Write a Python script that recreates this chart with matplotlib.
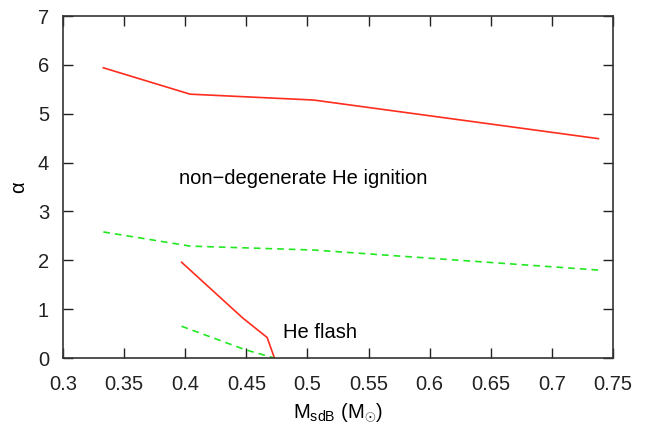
import matplotlib
matplotlib.use("Agg")
import matplotlib.pyplot as plt

plt.rcParams["font.family"] = ["Liberation Sans", "DejaVu Sans"]
plt.rcParams["mathtext.fontset"] = "custom"
plt.rcParams["mathtext.rm"] = "Liberation Sans"
plt.rcParams["mathtext.it"] = "Liberation Sans:italic"

# upper boundary, non-degenerate ignition
mass_hi = [0.333, 0.404, 0.505, 0.738]
alpha_red_hi = [5.94, 5.40, 5.28, 4.49]
alpha_green_hi = [2.58, 2.29, 2.21, 1.80]

# He flash branch
mass_flash_red = [0.397, 0.447, 0.467, 0.473]
alpha_flash_red = [1.96, 0.82, 0.42, 0.0]
mass_flash_green = [0.397, 0.449, 0.473]
alpha_flash_green = [0.65, 0.17, 0.0]

red = "#ff2d1e"
green = "#22e822"
fs = 14.5

fig = plt.figure(figsize=(6.49, 4.25), dpi=100)
ax = fig.add_axes([63 / 649, 67 / 425, 550 / 649, 342 / 425])

ax.plot(mass_hi, alpha_red_hi, color=red, lw=1.2)
ax.plot(mass_hi, alpha_green_hi, color=green, lw=1.2, ls=(0, (4, 3)))
ax.plot(mass_flash_red, alpha_flash_red, color=red, lw=1.2)
ax.plot(mass_flash_green, alpha_flash_green, color=green, lw=1.2, ls=(0, (4, 3)))

ax.text(0.395, 3.68, "non\u2212degenerate He ignition", fontsize=fs, va="center")
ax.text(0.480, 0.53, "He flash", fontsize=fs, va="center")

ax.set_xlim(0.3, 0.75)
ax.set_ylim(0, 7)
ax.set_xticks([0.3, 0.35, 0.4, 0.45, 0.5, 0.55, 0.6, 0.65, 0.7, 0.75])
ax.set_xticklabels(["0.3", "0.35", "0.4", "0.45", "0.5", "0.55", "0.6", "0.65", "0.7", "0.75"])
ax.set_yticks(range(8))
ax.tick_params(direction="in", top=True, right=True, length=7, width=1,
               labelsize=fs, colors="#222222")
ax.tick_params(axis="x", pad=12)
ax.tick_params(axis="y", pad=10)
for s in ax.spines.values():
    s.set_linewidth(1.2)
    s.set_color("#333333")

ax.set_xlabel(r"M$_{\rm sdB}$ (M$_{\odot}$)", fontsize=fs, labelpad=6)
ax.set_ylabel("\u03b1", fontsize=fs, labelpad=7)

fig.savefig("out.png", dpi=100)
